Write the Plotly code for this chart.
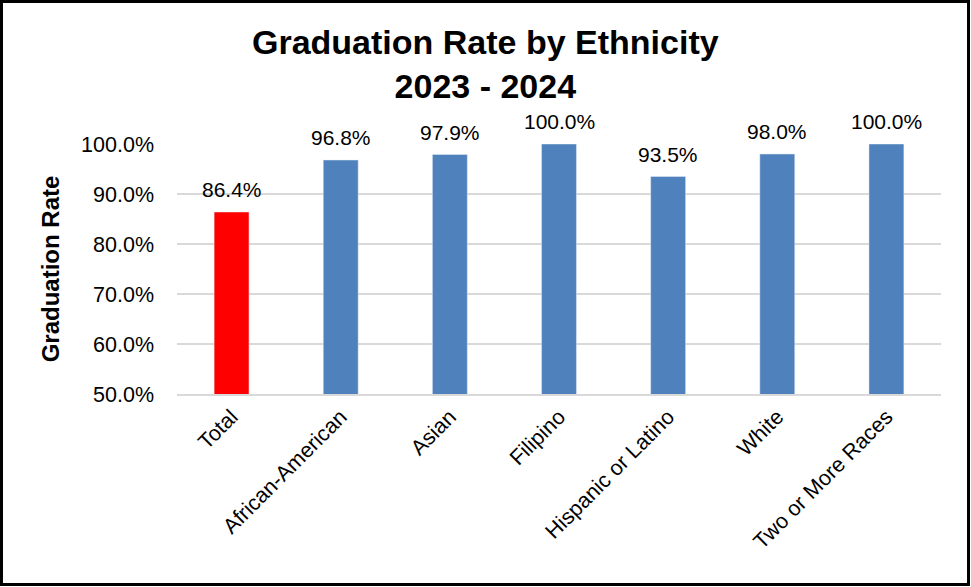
import plotly.graph_objects as go

categories = ["Total", "African-American", "Asian", "Filipino", "Hispanic or Latino", "White", "Two or More Races"]
rates = [86.4, 96.8, 97.9, 100.0, 93.5, 98.0, 100.0]
bar_colors = ["#FF0000"] + ["#4F81BD"] * 6
y_ticks = [50, 60, 70, 80, 90, 100]

W, H = 971, 587
ml, mr, mt, mb = 177, 30, 144, 193
pw, ph = W - ml - mr, H - mt - mb
FONT = "Liberation Sans, Arial"

fig = go.Figure(go.Bar(
    x=categories, y=rates, marker_color=bar_colors, width=0.32,
))

value_labels = [dict(x=c, y=v, text=f"{v:.1f}%", xref="x", yref="y",
                     yanchor="bottom", yshift=9, showarrow=False,
                     font=dict(size=21, color="black", family=FONT))
                for c, v in zip(categories, rates)]

fig.update_layout(
    width=W, height=H,
    margin=dict(l=ml, r=mr, t=mt, b=mb, autoexpand=False),
    paper_bgcolor="white", plot_bgcolor="white",
    font=dict(family=FONT, color="black"),
    showlegend=False,
    annotations=[dict(text="<b>Graduation Rate by Ethnicity<br>2023 - 2024</b>",
                      xref="paper", yref="paper",
                      x=(W / 2 - ml) / pw, xanchor="center",
                      y=1 + (mt - 21) / ph, yanchor="top",
                      showarrow=False, align="center",
                      font=dict(size=34, color="black", family=FONT))] + value_labels,
    shapes=[dict(type="rect", xref="paper", yref="paper",
                 x0=(1.5 - ml) / pw, x1=(W - 2.5 - ml) / pw,
                 y0=-(H - 2.5 - mt - ph) / ph, y1=1 + (mt - 1.5) / ph,
                 line=dict(color="black", width=3), layer="above")],
)
fig.update_xaxes(tickangle=-45, tickfont=dict(size=21.5), showline=True,
                 linecolor="#D9D9D9", linewidth=1.5, ticks="")
fig.update_yaxes(range=[50, 100], tickvals=y_ticks, ticktext=[f"{v:.1f}%" for v in y_ticks],
                 tickfont=dict(size=21.5), gridcolor="#D9D9D9", gridwidth=1.5,
                 zeroline=False, ticks="", ticklabelstandoff=22,
                 title=dict(text="<b>Graduation Rate</b>", font=dict(size=24), standoff=14))

fig.write_html("out.html", config={"displayModeBar": False},
               post_script="document.body.style.margin='0';")
